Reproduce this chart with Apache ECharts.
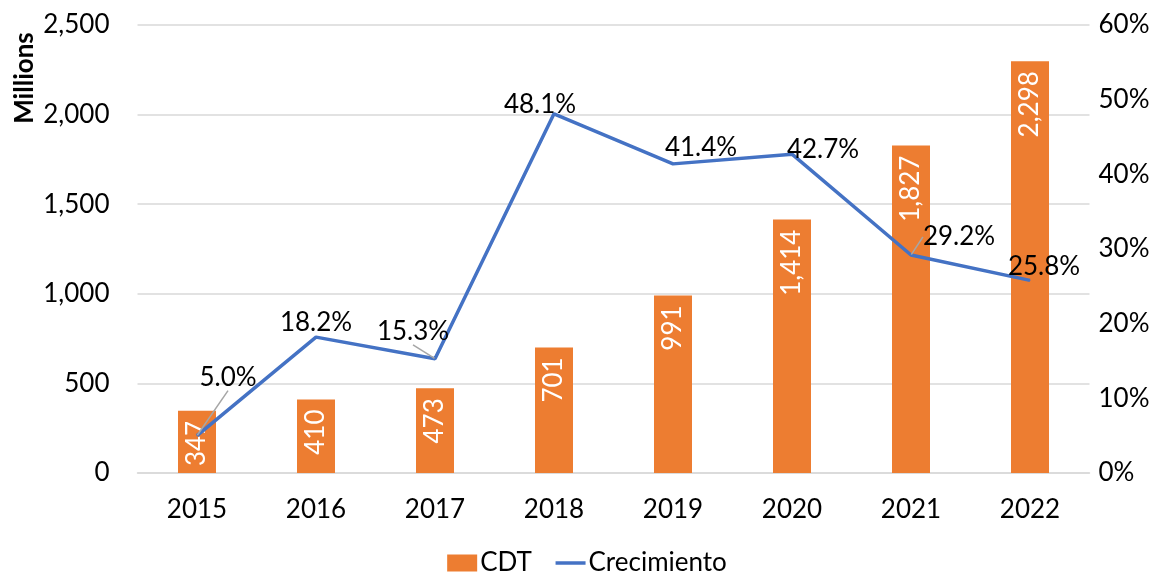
<!DOCTYPE html>
<html>
<head>
<meta charset="utf-8">
<script src="https://cdn.jsdelivr.net/npm/echarts@6/dist/echarts.min.js"></script>
<style>html,body{margin:0;padding:0;background:#fff}#c{width:1174px;height:574px}</style>
</head>
<body>
<div id="c"></div>
<script>
const categories = ['2015', '2016', '2017', '2018', '2019', '2020', '2021', '2022'];
const cdtValues = [347, 410, 473, 701, 991, 1414, 1827, 2298];
const growthValues = [5.0, 18.2, 15.3, 48.1, 41.4, 42.7, 29.2, 25.8];
const leftTicks = { min: 0, max: 2500, interval: 500 };
const rightTicks = { min: 0, max: 60, interval: 10 };

// label placement (style only): offset of label centre from point, and leader-line flags
const labelShift = [[31, -58], [0, -14], [-22, -27], [-14, -9], [28, -16], [31, -5], [48, -18], [14, -14]];
const leaderLine = [true, false, true, false, false, false, true, false];

const FONT = 'Lato';
const chart = echarts.init(document.getElementById('c'));
chart.setOption({
  animation: false,
  textStyle: { fontFamily: FONT },
  grid: { left: 137.5, right: 84.5, top: 25, bottom: 101 },
  legend: {
    top: 545,
    left: 'center',
    itemWidth: 30,
    itemHeight: 17,
    itemGap: 22,
    textStyle: { fontFamily: FONT, fontSize: 26, color: '#000', padding: [0, 0, 0, -2] },
    data: [
      { name: 'CDT', icon: 'rect' },
      { name: 'Crecimiento', itemStyle: { color: 'rgba(0,0,0,0)', borderWidth: 0, opacity: 0 },
        lineStyle: { width: 3.5, color: '#4472C4' } }
    ]
  },
  graphic: [{
    type: 'text',
    x: 25, y: 78,
    rotation: Math.PI / 2,
    style: { text: 'Millions', fontFamily: FONT, fontWeight: 'bold', fontSize: 26, fill: '#000', align: 'center', verticalAlign: 'middle' }
  }],
  xAxis: {
    type: 'category',
    data: categories,
    axisLine: { lineStyle: { color: '#d9d9d9', width: 1.5 } },
    axisTick: { show: false },
    axisLabel: { color: '#000', fontSize: 26, fontFamily: FONT, margin: 24 }
  },
  yAxis: [{
    type: 'value',
    min: leftTicks.min, max: leftTicks.max, interval: leftTicks.interval,
    axisLine: { show: false }, axisTick: { show: false },
    splitLine: { lineStyle: { color: '#d9d9d9', width: 1.5 } },
    axisLabel: { color: '#000', fontSize: 26, fontFamily: FONT, margin: 28,
      formatter: v => v.toLocaleString('en-US') }
  }, {
    type: 'value',
    min: rightTicks.min, max: rightTicks.max, interval: rightTicks.interval,
    axisLine: { show: false }, axisTick: { show: false },
    splitLine: { show: false },
    axisLabel: { color: '#000', fontSize: 26, fontFamily: FONT, margin: 9,
      formatter: v => v + '%' }
  }],
  series: [{
    name: 'CDT',
    type: 'bar',
    data: cdtValues,
    barWidth: 38,
    itemStyle: { color: '#ED7D31' },
    label: {
      show: true,
      position: 'insideTop',
      distance: 10,
      rotate: 90,
      align: 'right',
      verticalAlign: 'middle',
      color: '#fff',
      fontSize: 26,
      fontFamily: FONT,
      formatter: p => p.value.toLocaleString('en-US')
    }
  }, {
    name: 'Crecimiento',
    type: 'line',
    yAxisIndex: 1,
    data: growthValues.map((v, i) => ({
      value: v,
      labelLine: { show: leaderLine[i], lineStyle: { color: '#a6a6a6', width: 1.5 } }
    })),
    symbol: 'circle',
    symbolSize: 1,
    lineStyle: { color: '#4472C4', width: 3.5 },
    itemStyle: { color: '#4472C4' },
    z: 5,
    label: {
      show: true,
      position: 'inside',
      color: '#000',
      fontSize: 26,
      fontFamily: FONT,
      formatter: p => p.value.toFixed(1) + '%'
    },
    labelLine: { show: false },
    labelLayout: p => ({ dx: labelShift[p.dataIndex][0], dy: labelShift[p.dataIndex][1] })
  }]
});
</script>
</body>
</html>
